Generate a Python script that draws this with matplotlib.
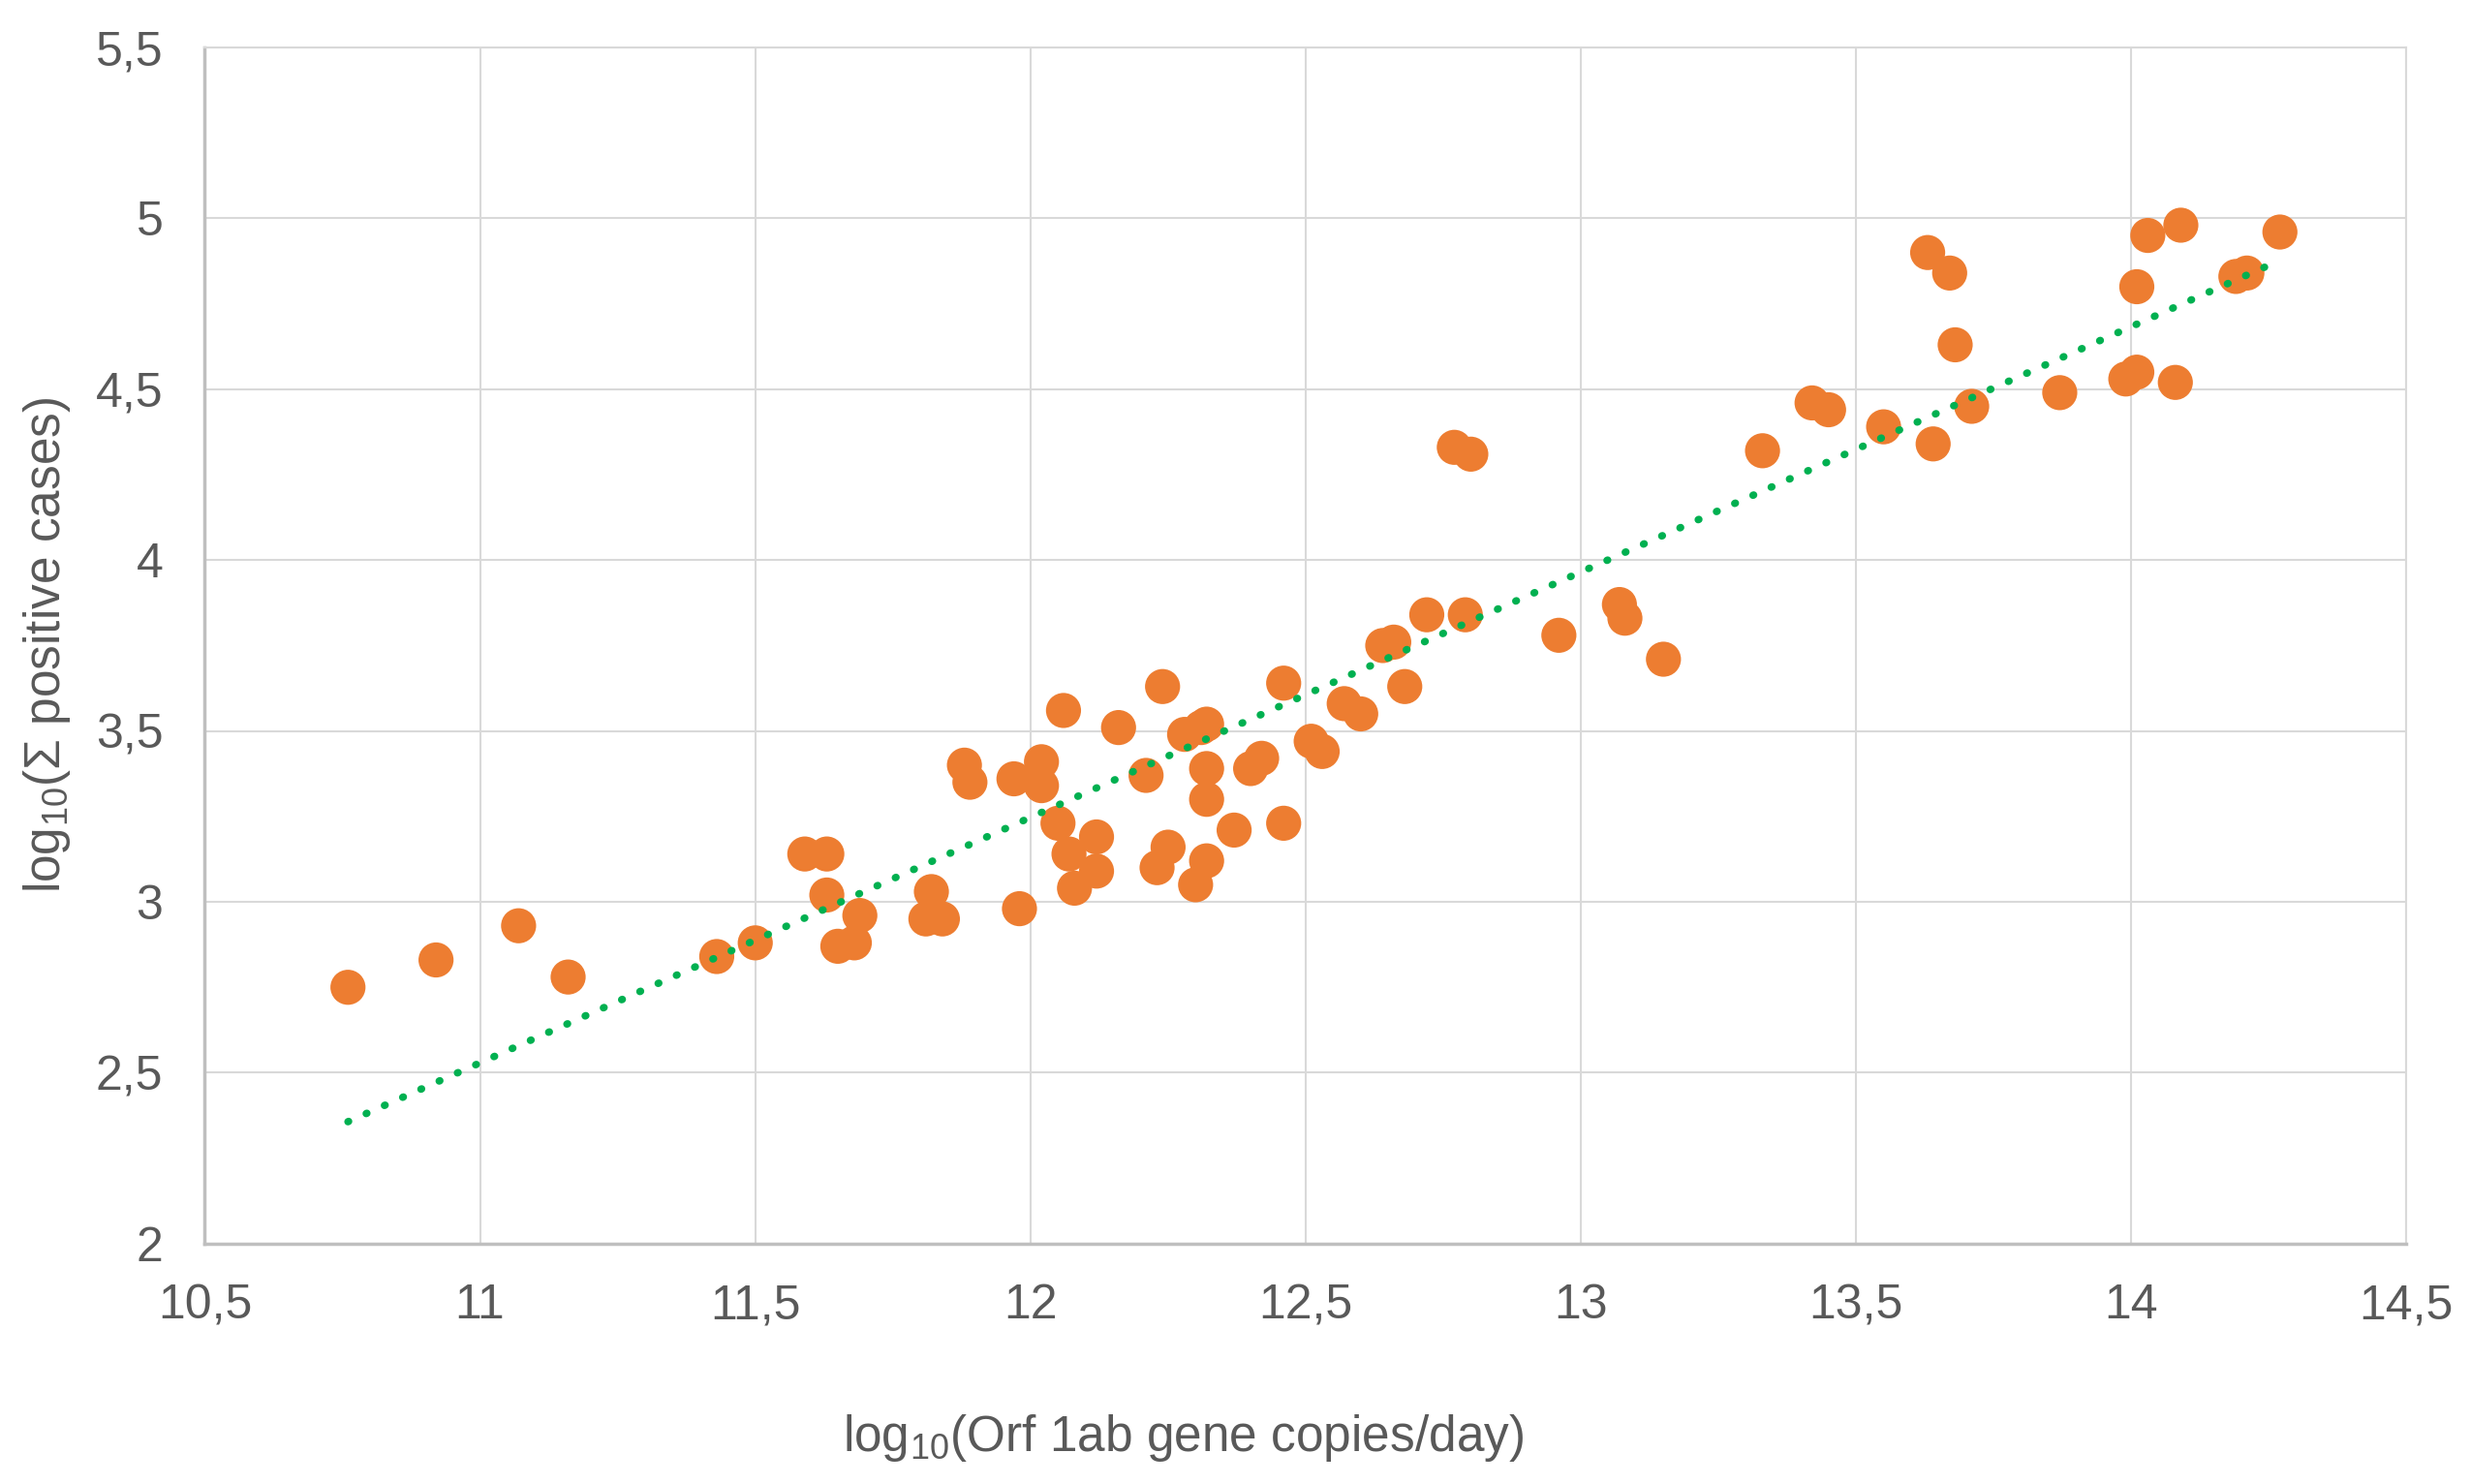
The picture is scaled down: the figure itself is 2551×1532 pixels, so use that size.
import numpy as np
import matplotlib
matplotlib.use("Agg")
import matplotlib.pyplot as plt
from matplotlib.ticker import FuncFormatter, MultipleLocator

plt.rcParams.update({
    "font.family": ["Liberation Sans", "DejaVu Sans"],
    "mathtext.fontset": "custom",
    "mathtext.rm": "Liberation Sans",
    "mathtext.default": "regular",
})

# log10 gene copies/day (x) vs log10 cumulative positive cases (y)
log_copies = [
    10.76, 10.92, 11.07, 11.16, 11.43, 11.50, 11.59, 11.63, 11.63, 11.65,
    11.68, 11.69, 11.82, 11.81, 11.84, 11.88, 11.89, 11.97, 11.98, 12.02,
    12.02, 12.05, 12.06, 12.07, 12.08, 12.12, 12.12, 12.16, 12.21, 12.24,
    12.23, 12.25, 12.28, 12.30, 12.31, 12.32, 12.32, 12.32, 12.32, 12.37,
    12.40, 12.42, 12.46, 12.46, 12.51, 12.53, 12.57, 12.60, 12.64, 12.66,
    12.68, 12.72, 12.79, 12.77, 12.80, 12.96, 13.07, 13.08, 13.15, 13.33,
    13.42, 13.45, 13.55, 13.63, 13.67, 13.68, 13.64, 13.71, 13.87, 13.99,
    14.01, 14.01, 14.08, 14.03, 14.09, 14.19, 14.21, 14.27,
]
log_cases = [
    2.75, 2.83, 2.93, 2.78, 2.84, 2.88, 3.14, 3.14, 3.02, 2.87,
    2.88, 2.96, 3.03, 2.95, 2.95, 3.40, 3.35, 3.36, 2.98, 3.41,
    3.34, 3.23, 3.56, 3.14, 3.04, 3.09, 3.19, 3.51, 3.37, 3.63,
    3.10, 3.16, 3.49, 3.05, 3.51, 3.52, 3.39, 3.30, 3.12, 3.21,
    3.39, 3.42, 3.64, 3.23, 3.47, 3.44, 3.58, 3.55, 3.75, 3.76,
    3.63, 3.84, 3.84, 4.33, 4.31, 3.78, 3.87, 3.83, 3.71, 4.32,
    4.46, 4.44, 4.39, 4.90, 4.84, 4.63, 4.34, 4.45, 4.49, 4.53,
    4.55, 4.80, 4.52, 4.95, 4.98, 4.83, 4.84, 4.96,
]

x = np.array(log_copies)
y = np.array(log_cases)

fig = plt.figure(figsize=(25.51, 15.32), dpi=100)
ax = fig.add_axes([0.0829, 0.162, 0.891, 0.806])

# linear trendline (least squares), drawn over the data range
slope, intercept = np.polyfit(x, y, 1)
xt = np.array([x.min(), x.max()])
ax.plot(xt, slope * xt + intercept, color="#00B050", linestyle=(0, (0.1, 2.6)),
        linewidth=5.5, dash_capstyle="round", zorder=3)

ax.scatter(x, y, s=680, color="#ED7D31", edgecolors="none", zorder=2)

ax.set_xlim(10.5, 14.5)
ax.set_ylim(2, 5.5)
ax.xaxis.set_major_locator(MultipleLocator(0.5))
ax.yaxis.set_major_locator(MultipleLocator(0.5))
comma = FuncFormatter(lambda v, p: f"{v:g}".replace(".", ","))
ax.xaxis.set_major_formatter(comma)
ax.yaxis.set_major_formatter(comma)

ax.grid(True, color="#D9D9D9", linewidth=1.5, zorder=0)
ax.set_axisbelow(True)
for side in ["top", "right"]:
    ax.spines[side].set_color("#D9D9D9")
    ax.spines[side].set_linewidth(1.5)
for side in ["left", "bottom"]:
    ax.spines[side].set_color("#BFBFBF")
    ax.spines[side].set_linewidth(2.5)
ax.tick_params(length=0, labelsize=36, labelcolor="#595959")
ax.tick_params(axis="x", pad=30)
ax.tick_params(axis="y", pad=31)

fig.text(0.479, 0.031, r"log$_{10}$(Orf 1ab gene copies/day)", fontsize=37,
         color="#595959", ha="center", va="center")
fig.text(0.019, 0.565, r"log$_{10}$(Σ positive cases)", fontsize=37,
         color="#595959", ha="center", va="center", rotation=90)

fig.savefig("out.png", dpi=100)
